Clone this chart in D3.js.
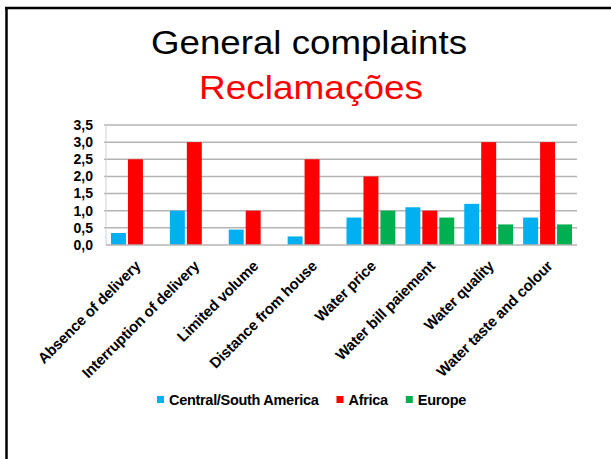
<!DOCTYPE html>
<html>
<head>
<meta charset="utf-8">
<script src="https://cdn.jsdelivr.net/npm/d3@7"></script>
<style>
  body { margin: 0; background: #fff; }
  svg { display: block; font-family: 'Liberation Sans', Arial, sans-serif; }
</style>
</head>
<body>
<div id="chart"></div>
<script>
// data
const categories = ['Absence of delivery', 'Interruption of delivery', 'Limited volume',
  'Distance from house', 'Water price', 'Water bill paiement', 'Water quality',
  'Water taste and colour'];
const seriesNames = ['Central/South America', 'Africa', 'Europe'];
const america = [0.35, 1.0, 0.45, 0.25, 0.8, 1.1, 1.2, 0.8];
const africa = [2.5, 3.0, 1.0, 2.5, 2.0, 1.0, 3.0, 3.0];
const europe = [null, null, null, null, 1.0, 0.8, 0.6, 0.6];
const yTicks = [0, 0.5, 1.0, 1.5, 2.0, 2.5, 3.0, 3.5];
const colors = ['#00b0f0', '#ff0000', '#00b050'];

const width = 611;
const height = 459;
const plot = { left: 106, right: 577, top: 125, bottom: 245 };

const svg = d3.select('#chart').append('svg')
  .attr('width', width)
  .attr('height', height);

// slide frame
svg.append('line')
  .attr('x1', 6.5).attr('x2', 6.5).attr('y1', 7).attr('y2', height)
  .attr('stroke', '#000').attr('stroke-width', 2.5);
svg.append('line')
  .attr('x1', 5).attr('x2', width).attr('y1', 8).attr('y2', 8)
  .attr('stroke', '#000').attr('stroke-width', 2.5);

// titles
svg.append('text')
  .attr('x', 309).attr('y', 54)
  .attr('text-anchor', 'middle')
  .attr('textLength', 316)
  .attr('lengthAdjust', 'spacingAndGlyphs')
  .style('font-size', '33px')
  .style('fill', '#000')
  .text('General complaints');

svg.append('text')
  .attr('x', 311).attr('y', 99)
  .attr('text-anchor', 'middle')
  .attr('textLength', 224)
  .attr('lengthAdjust', 'spacingAndGlyphs')
  .style('font-size', '33px')
  .style('fill', '#ff0000')
  .text('Reclamações');

// scales
const x0 = d3.scaleBand()
  .domain(categories)
  .range([plot.left, plot.right]);

const x1 = d3.scaleBand()
  .domain(seriesNames)
  .range([x0.bandwidth() * 0.085, x0.bandwidth() * 0.915])
  .paddingInner(0.118);

const y = d3.scaleLinear()
  .domain([0, 3.5])
  .range([plot.bottom, plot.top]);

const fmt = v => d3.format('.1f')(v).replace('.', ',');

// gridlines
svg.append('g')
  .selectAll('line')
  .data(yTicks.slice(1))
  .enter().append('line')
  .attr('x1', plot.left - 2)
  .attr('x2', plot.right)
  .attr('y1', d => y(d))
  .attr('y2', d => y(d))
  .attr('stroke', '#b4b4b4')
  .attr('stroke-width', 1.5);

// y axis line
svg.append('line')
  .attr('x1', plot.left).attr('x2', plot.left)
  .attr('y1', plot.top).attr('y2', plot.bottom)
  .attr('stroke', '#d0d0d0').attr('stroke-width', 1);

// y tick labels
svg.append('g')
  .selectAll('text')
  .data(yTicks)
  .enter().append('text')
  .attr('x', 93)
  .attr('y', d => y(d))
  .attr('dy', '0.35em')
  .attr('text-anchor', 'end')
  .style('font-size', '14px')
  .style('font-weight', 'bold')
  .style('fill', '#000')
  .text(d => fmt(d));

// bars
const rows = categories.map((c, i) => ({
  name: c,
  values: [america[i], africa[i], europe[i]]
}));

const groups = svg.append('g')
  .selectAll('g')
  .data(rows)
  .enter().append('g')
  .attr('transform', d => `translate(${x0(d.name)}, 0)`);

groups.selectAll('rect')
  .data(d => d.values.map((v, j) => ({ series: seriesNames[j], value: v, color: colors[j] }))
    .filter(e => e.value != null))
  .enter().append('rect')
  .attr('x', d => x1(d.series))
  .attr('y', d => y(d.value))
  .attr('width', x1.bandwidth())
  .attr('height', d => y(0) - y(d.value))
  .attr('fill', d => d.color);

// x axis line
svg.append('line')
  .attr('x1', plot.left).attr('x2', plot.right)
  .attr('y1', plot.bottom).attr('y2', plot.bottom)
  .attr('stroke', '#b4b4b4').attr('stroke-width', 1.5);

// category labels
svg.append('g')
  .selectAll('text')
  .data(categories)
  .enter().append('text')
  .attr('transform', d => `translate(${x0(d) + x0.bandwidth() / 2 + 6}, 267) rotate(-45)`)
  .attr('text-anchor', 'end')
  .style('font-size', '15px')
  .style('font-weight', 'bold')
  .style('letter-spacing', '-0.2px')
  .style('fill', '#000')
  .text(d => d);

// legend
const legend = svg.append('g').attr('transform', 'translate(157, 400)');
let lx = 0;
seriesNames.forEach((name, i) => {
  const item = legend.append('g').attr('transform', `translate(${lx}, 0)`);
  item.append('rect')
    .attr('x', 0).attr('y', -4)
    .attr('width', 7).attr('height', 7)
    .attr('fill', colors[i]);
  const t = item.append('text')
    .attr('x', 12).attr('y', 0)
    .attr('dy', '0.35em')
    .style('font-size', '14.5px')
    .style('font-weight', 'bold')
    .style('letter-spacing', '-0.3px')
    .style('fill', '#000')
    .text(name);
  lx += 12 + t.node().getComputedTextLength() + 18;
});
</script>
</body>
</html>
